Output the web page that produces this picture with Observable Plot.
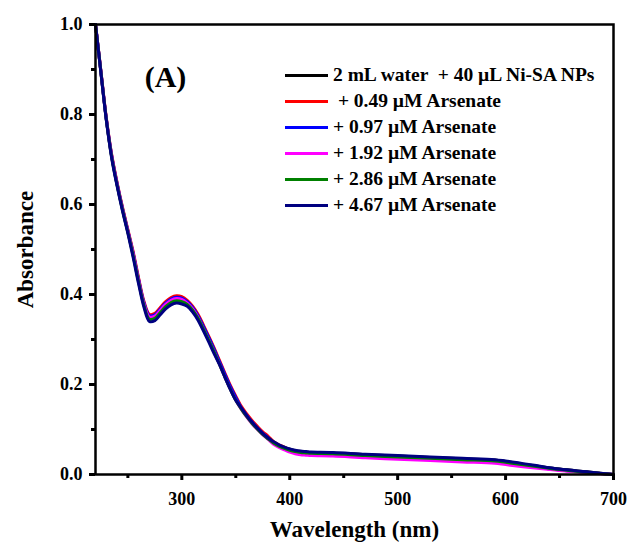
<!DOCTYPE html>
<html>
<head>
<meta charset="utf-8">
<script src="https://cdn.jsdelivr.net/npm/d3@7"></script>
<script src="https://cdn.jsdelivr.net/npm/@observablehq/plot@0.6"></script>
<style>
  html, body { margin: 0; padding: 0; background: #fff; }
  #wrap { position: relative; width: 630px; height: 551px; font-family: "Liberation Serif", "Times New Roman", serif; }
  #legend { position: absolute; left: 285px; top: 62px; font-weight: bold; font-size: 19.5px; color: #000; }
  #legend .row { display: flex; align-items: center; height: 26px; white-space: pre; }
  #legend .sw { width: 43px; height: 3px; margin-right: 5px; flex: none; }
</style>
</head>
<body>
<div id="wrap"><div id="chart"></div><div id="legend"></div></div>
<script>
const wavelengths = [220,225,230,235,240,245,250,255,260,265,270,275,280,285,290,295,300,305,310,315,320,325,330,335,340,345,350,355,360,365,370,375,380,385,390,395,400,405,410,415,420,440,470,500,530,560,590,600,625,650,675,700];

const seriesNames = ["2 mL water  + 40 \u00b5L Ni-SA NPs", " + 0.49 \u00b5M Arsenate", "+ 0.97 \u00b5M Arsenate", "+ 1.92 \u00b5M Arsenate", "+ 2.86 \u00b5M Arsenate", "+ 4.67 \u00b5M Arsenate"];
const seriesColors = ["#000000", "#ff0000", "#0000ff", "#ff00ff", "#008000", "#000080"];

const absWater = [1.000,0.895,0.790,0.707,0.645,0.590,0.540,0.488,0.430,0.378,0.349,0.351,0.364,0.377,0.386,0.390,0.388,0.381,0.368,0.350,0.326,0.301,0.275,0.247,0.219,0.192,0.168,0.148,0.131,0.116,0.103,0.091,0.081,0.072,0.065,0.060,0.056,0.053,0.051,0.050,0.049,0.048,0.044,0.041,0.038,0.035,0.032,0.029,0.020,0.012,0.006,0.000];
const abs049 = [1.000,0.897,0.793,0.711,0.649,0.594,0.544,0.494,0.436,0.384,0.356,0.358,0.371,0.384,0.393,0.397,0.395,0.387,0.374,0.356,0.332,0.307,0.281,0.253,0.225,0.198,0.174,0.152,0.135,0.120,0.107,0.095,0.085,0.073,0.066,0.061,0.054,0.049,0.047,0.046,0.045,0.044,0.040,0.037,0.034,0.031,0.028,0.025,0.017,0.010,0.005,0.000];
const abs097 = [1.000,0.896,0.791,0.709,0.647,0.592,0.542,0.491,0.433,0.381,0.353,0.355,0.368,0.381,0.390,0.394,0.392,0.384,0.371,0.353,0.329,0.304,0.278,0.250,0.222,0.195,0.171,0.149,0.132,0.117,0.104,0.092,0.082,0.070,0.063,0.058,0.054,0.049,0.047,0.046,0.045,0.044,0.040,0.037,0.034,0.031,0.028,0.025,0.017,0.010,0.005,0.000];
const abs192 = [1.000,0.895,0.790,0.707,0.645,0.590,0.540,0.488,0.430,0.378,0.350,0.352,0.365,0.378,0.387,0.391,0.389,0.381,0.368,0.349,0.323,0.298,0.272,0.244,0.216,0.189,0.165,0.145,0.128,0.113,0.100,0.088,0.078,0.067,0.060,0.055,0.050,0.046,0.044,0.043,0.042,0.041,0.037,0.034,0.031,0.028,0.025,0.022,0.015,0.009,0.004,0.000];
const abs286 = [1.000,0.894,0.789,0.705,0.643,0.588,0.538,0.485,0.427,0.375,0.345,0.347,0.360,0.373,0.382,0.386,0.384,0.378,0.365,0.347,0.323,0.298,0.272,0.244,0.216,0.189,0.165,0.146,0.129,0.114,0.101,0.089,0.079,0.070,0.063,0.058,0.054,0.051,0.049,0.048,0.047,0.046,0.042,0.039,0.036,0.033,0.030,0.027,0.019,0.011,0.005,0.000];
const abs467 = [1.000,0.893,0.788,0.703,0.641,0.586,0.536,0.481,0.423,0.371,0.340,0.342,0.355,0.368,0.377,0.381,0.379,0.374,0.361,0.343,0.319,0.294,0.268,0.244,0.216,0.189,0.165,0.148,0.131,0.116,0.103,0.091,0.081,0.073,0.066,0.061,0.057,0.054,0.052,0.051,0.050,0.049,0.045,0.042,0.039,0.036,0.033,0.030,0.021,0.012,0.006,0.000];

const xMajorTicks = [300, 400, 500, 600, 700];
const xMinorTicks = [250, 350, 450, 550, 650];
const yMajorTicks = [0.0, 0.2, 0.4, 0.6, 0.8, 1.0];
const yMinorTicks = [0.1, 0.3, 0.5, 0.7, 0.9];

const allSeries = [absWater, abs049, abs097, abs192, abs286, abs467];
const data = [];
allSeries.forEach((vals, i) => {
  vals.forEach((v, j) => data.push({wl: wavelengths[j], abs: v, series: seriesNames[i], color: seriesColors[i]}));
});

const font = "Liberation Serif, Times New Roman, serif";

const chart = Plot.plot({
  width: 630,
  height: 551,
  marginLeft: 95,
  marginRight: 17,
  marginTop: 24,
  marginBottom: 77,
  style: {fontFamily: font, fontWeight: "bold", color: "#000", background: "#fff"},
  x: {domain: [220, 700], axis: null},
  y: {domain: [0, 1], axis: null},
  marks: [
    Plot.line(data, {x: "wl", y: "abs", z: "series", stroke: "color", strokeWidth: 3, curve: "catmull-rom"}),
    Plot.frame({stroke: "#000", strokeWidth: 2.5}),
    Plot.axisX(xMajorTicks, {anchor: "bottom", tickSize: 6, tickPadding: 12, stroke: "#000", strokeWidth: 3, fontSize: 18, fontWeight: "bold", label: null, tickFormat: d => String(d)}),
    Plot.axisX(xMinorTicks, {anchor: "bottom", tickSize: 4, stroke: "#000", strokeWidth: 3, text: null, label: null}),
    Plot.axisY(yMajorTicks, {anchor: "left", tickSize: 6, tickPadding: 7, stroke: "#000", strokeWidth: 3, fontSize: 18, fontWeight: "bold", label: null, tickFormat: d => d.toFixed(1)}),
    Plot.axisY(yMinorTicks, {anchor: "left", tickSize: 4, stroke: "#000", strokeWidth: 3, text: null, label: null}),
    Plot.text(["Wavelength (nm)"], {frameAnchor: "bottom", dy: 62, textAnchor: "middle", fontSize: 23, fontWeight: "bold", fill: "#000"}),
    Plot.text(["Absorbance"], {frameAnchor: "left", dx: -70, rotate: -90, textAnchor: "middle", lineAnchor: "middle", fontSize: 23, fontWeight: "bold", fill: "#000"}),
    Plot.text(["(A)"], {frameAnchor: "top-left", dx: 70, dy: 53, textAnchor: "middle", lineAnchor: "middle", fontSize: 30, fontWeight: "bold", fill: "#000"})
  ]
});
document.getElementById("chart").appendChild(chart);

const legend = document.getElementById("legend");
seriesNames.forEach((name, i) => {
  const row = document.createElement("div");
  row.className = "row";
  const sw = document.createElement("span");
  sw.className = "sw";
  sw.style.background = seriesColors[i];
  const label = document.createElement("span");
  label.textContent = name;
  row.appendChild(sw);
  row.appendChild(label);
  legend.appendChild(row);
});
</script>
</body>
</html>
